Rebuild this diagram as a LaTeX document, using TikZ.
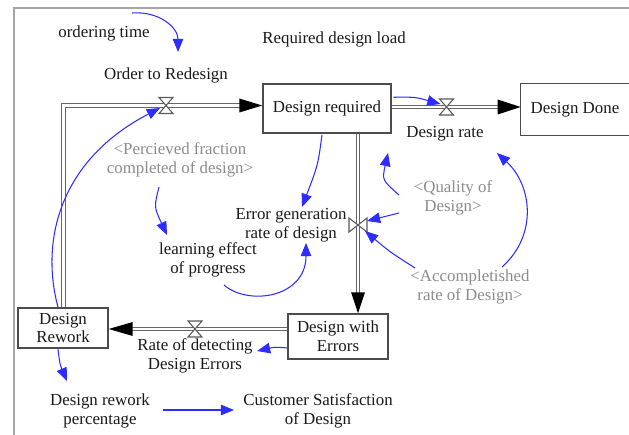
\documentclass[tikz,border=0pt]{standalone}
\usepackage{fontspec}
\setmainfont{Liberation Serif}
\usetikzlibrary{arrows.meta,calc}
\definecolor{infoblue}{RGB}{45,45,255}
\definecolor{shadowgray}{RGB}{140,140,140}
\tikzset{
  txt/.style={font=\fontsize{9.6}{10.8}\selectfont, text=black!90, align=center, inner sep=1pt},
  shadow/.style={txt, text=shadowgray},
  stock/.style={txt, draw=black!70, line width=0.85pt, fill=white, inner sep=0pt},
  pipe/.style={draw=black!60, double=white, line width=0.8pt, double distance=1.2pt, line join=miter},
  valve/.style={draw=black!65, fill=white, line width=0.6pt, line join=miter},
  info/.style={draw=infoblue, line width=0.6pt, -{Triangle[length=7.5pt,width=6pt]}, fill=none},
  head/.style={fill=black}
}
\begin{document}
\begin{tikzpicture}[x=0.02cm,y=-0.02cm]
\useasboundingbox (0,0) rectangle (629,435);
\clip (0,0) rectangle (629,435);
% frame
\draw[black!35, line width=0.6pt] (14,435) -- (14,8) -- (629,8);

% texts
\node[txt] (ot) at (104,33) {ordering time};
\node[txt] (rdl) at (334,39) {Required design load};
\node[txt] (otr) at (166,75) {Order to Redesign};
\node[txt] (drt) at (445,134) {Design rate};
\node[shadow] (pf) at (180,160) {<Percieved fraction\\completed of design>};
\node[txt] (le) at (208,260) {learning effect\\of progress};
\node[txt] (eg) at (291,225) {Error generation\\rate of design};
\node[shadow] (qd) at (453,197.5) {<Quality of\\Design>};
\node[shadow] (ar) at (470,286.5) {<Accompletished\\rate of Design>};
\node[txt] (rde) at (195,355.5) {Rate of detecting\\Design Errors};
\node[txt] (drp) at (100,410.5) {Design rework\\percentage};
\node[txt] (cs) at (318,410.5) {Customer Satisfaction\\of Design};

% valve positions
\coordinate (v1) at (166,105.5);
\coordinate (v2) at (446.5,107);
\coordinate (v3) at (358,225);
\coordinate (v4) at (195,329);

% stocks
\node[stock, minimum width=2.56cm, minimum height=0.98cm] (dr) at (327,108.5) {Design required};
\node[txt, minimum width=2.16cm, minimum height=1.02cm] (dd) at (575,109.5) {Design Done};
\draw[draw=black!70, line width=0.85pt] (dd.north west) rectangle ($(dd.south east)+(30,0)$);
\node[stock, minimum width=2cm, minimum height=0.9cm] (dwe) at (338,336.5) {Design with\\Errors};
\node[stock, minimum width=1.8cm, minimum height=0.8cm] (drw) at (63,328) {Design\\Rework};

% pipe 1: Design Rework -> Design required
\draw[pipe] ($(drw.north)+(0.5,0)$) |- ($(dr.west)+(-22,-3)$);
\fill[head] ($(dr.west)+(0,-3)$) -- ++(-23,-7) -- ++(0,14) -- cycle;
% pipe 2: Design required -> Design Done
\draw[pipe] ($(dr.east)+(0,-1.5)$) -- ($(dd.west)+(-22,-2.5)$);
\fill[head] ($(dd.west)+(0,-2.5)$) -- ++(-23,-7.5) -- ++(0,15) -- cycle;
% pipe 3: Design required -> Design with Errors
\draw[pipe] ($(dr.south)+(31,0)$) -- ($(dwe.north)+(20,-20)$);
\fill[head] ($(dwe.north)+(20,0)$) -- ++(-7,-21) -- ++(14,0) -- cycle;
% pipe 4: Design with Errors -> Design Rework
\draw[pipe] ($(dwe.west)+(0,-7.5)$) -- ($(drw.east)+(23,1)$);
\fill[head] ($(drw.east)+(0,1)$) -- ++(24,-7) -- ++(0,14) -- cycle;

% valves
\filldraw[valve] ($(v1)+(-7,-8)$) -- ++(14,0) -- ++(-14,16) -- ++(14,0) -- cycle;
\filldraw[valve] ($(v2)+(-7,-8)$) -- ++(14,0) -- ++(-14,16) -- ++(14,0) -- cycle;
\filldraw[valve] ($(v4)+(-7,-8)$) -- ++(14,0) -- ++(-14,16) -- ++(14,0) -- cycle;
\filldraw[valve] ($(v3)+(-9,-7)$) -- ++(0,14) -- ++(18,-14) -- ++(0,14) -- cycle;

% information links
\draw[info] ($(ot)+(28,-20)$) .. controls (160,11) and (178,28) .. ($(otr)+(12,-23)$);
\draw[info] ($(drw.north)+(-5,0)$) .. controls (40,240) and (60,160) .. ($(v1)+(-6,2.5)$);
\draw[info] ($(dr.north east)+(2,14)$) .. controls (415,97) .. ($(v2)+(-6,-3)$);
\draw[info] ($(dr.south)+(-5,1)$) .. controls (318,165) .. ($(eg)+(11,-18)$);
\draw[info] ($(pf)+(-21,27)$) .. controls (154,207) .. ($(le)+(-41,-25)$);
\draw[info] ($(le)+(16,25)$) .. controls (248,306) and (306,298) .. ($(eg)+(15,18)$);
\draw[info] ($(qd)+(-54,-2.5)$) .. controls (382,180) .. ($(drt)+(-57,19)$);
\draw[info] ($(qd)+(-54,15.5)$) -- ($(v3)+(9,-4)$);
\draw[info] ($(ar)+(-55,-18.5)$) .. controls (390,252) .. ($(v3)+(7,6)$);
\draw[info] ($(ar)+(32,-19.5)$) .. controls (538,235) and (532,185) .. ($(drt)+(52,19)$);
\draw[info] ($(dwe.west)+(0,11.5)$) .. controls (275,347) .. ($(rde)+(62,-4.5)$);
\draw[info] ($(drw.south)+(-5,0)$) .. controls (60,365) .. ($(drp)+(-33,-29.5)$);
\draw[info] ($(drp)+(63,-0.5)$) -- ($(cs)+(-84,-0.5)$);
\end{tikzpicture}
\end{document}
